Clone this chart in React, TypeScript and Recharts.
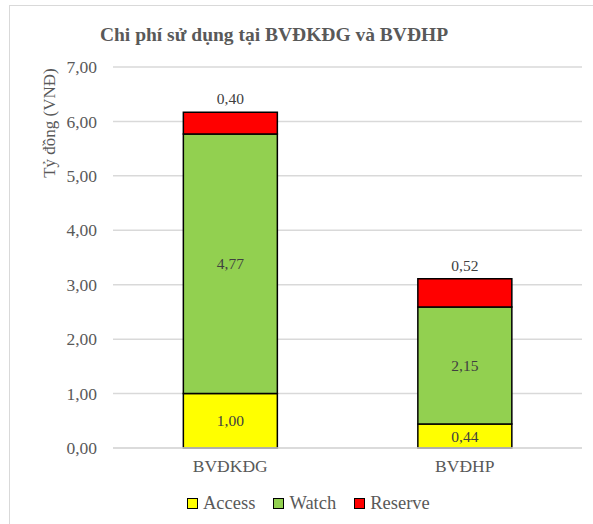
import React from 'react';
import { BarChart, Bar, XAxis, YAxis, CartesianGrid, LabelList } from 'recharts';

const categories = ['BVĐKĐG', 'BVĐHP'];
const accessValues = [1.0, 0.44];
const watchValues = [4.77, 2.15];
const reserveValues = [0.4, 0.52];
const yTicks = [0, 1, 2, 3, 4, 5, 6, 7];
const seriesNames = ['Access', 'Watch', 'Reserve'];
const seriesColors = ['#FFFF00', '#92D050', '#FF0000'];

const data = categories.map((name, i) => ({
  name,
  Access: accessValues[i],
  Watch: watchValues[i],
  Reserve: reserveValues[i],
}));

const FONT = '"Liberation Serif", "Times New Roman", serif';
const fmt = (v: any) => Number(v).toFixed(2).replace('.', ',');

export default function App() {
  return (
    <div style={{ position: 'absolute', left: 0, top: 0, width: 593, height: 524, overflow: 'hidden', background: '#fff' }}>
      <div style={{ position: 'absolute', left: 9, top: 5, width: 800, height: 800, borderLeft: '1.5px solid #d9d9d9', borderTop: '1.5px solid #d9d9d9' }} />
      <div style={{ position: 'absolute', left: 74, width: 400, top: 22, textAlign: 'center', fontFamily: FONT, fontWeight: 'bold', fontSize: 19.5, color: '#595959', lineHeight: '26px', whiteSpace: 'nowrap' }}>
        Chi phí sử dụng tại BVĐKĐG và BVĐHP
      </div>
      <div style={{ position: 'absolute', left: 50, top: 123, width: 0, height: 0 }}>
        <div style={{ position: 'absolute', transform: 'translate(-50%, -50%) rotate(-90deg)', fontFamily: FONT, fontSize: 17, color: '#595959', whiteSpace: 'nowrap' }}>
          Tỷ đồng (VNĐ)
        </div>
      </div>
      <div style={{ position: 'absolute', left: 0, top: 0 }}>
        <BarChart width={593} height={524} data={data} margin={{ top: 67, right: 11, bottom: 46, left: 0 }} barCategoryGap="30%">
          <CartesianGrid vertical={false} stroke="#d9d9d9" strokeWidth={1.5} />
          <XAxis dataKey="name" height={30} axisLine={{ stroke: '#d9d9d9', strokeWidth: 1.5 }} tickLine={false} tickMargin={6}
            tick={{ fill: '#595959', fontSize: 17.5, fontFamily: FONT }} />
          <YAxis width={113} domain={[0, 7]} ticks={yTicks} axisLine={false} tickLine={false} tickMargin={10}
            tickFormatter={fmt} tick={{ fill: '#595959', fontSize: 17.5, fontFamily: FONT }} />
          <Bar dataKey="Access" stackId="a" fill={seriesColors[0]} stroke="#000" strokeWidth={1.5} isAnimationActive={false}>
            <LabelList dataKey="Access" position="center" formatter={fmt} fill="#404040" fontSize={15.5} fontFamily={FONT} />
          </Bar>
          <Bar dataKey="Watch" stackId="a" fill={seriesColors[1]} stroke="#000" strokeWidth={1.5} isAnimationActive={false}>
            <LabelList dataKey="Watch" position="center" formatter={fmt} fill="#404040" fontSize={15.5} fontFamily={FONT} />
          </Bar>
          <Bar dataKey="Reserve" stackId="a" fill={seriesColors[2]} stroke="#000" strokeWidth={1.5} isAnimationActive={false}>
            <LabelList dataKey="Reserve" position="top" offset={8} formatter={fmt} fill="#404040" fontSize={15.5} fontFamily={FONT} />
          </Bar>
        </BarChart>
      </div>
      <div style={{ position: 'absolute', left: 187, top: 491, display: 'flex', alignItems: 'center', fontFamily: FONT, fontSize: 18.5, color: '#595959', lineHeight: '24px' }}>
        {seriesNames.map((n, i) => (
          <div key={n} style={{ display: 'flex', alignItems: 'center', marginRight: 18 }}>
            <div style={{ width: 9, height: 9, background: seriesColors[i], border: '1px solid #000', marginRight: 5 }} />
            <span>{n}</span>
          </div>
        ))}
      </div>
    </div>
  );
}
